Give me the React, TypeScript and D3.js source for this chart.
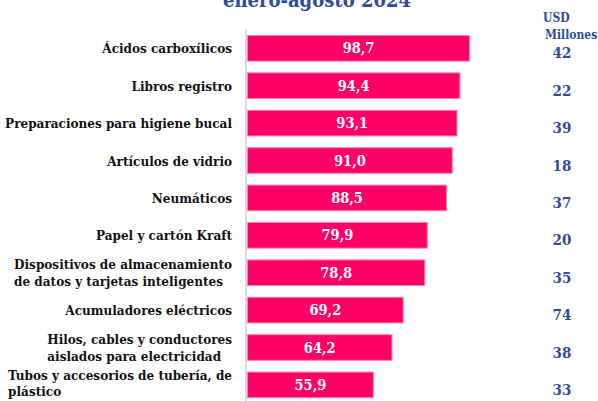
import React from "react";
import * as d3 from "d3";

const categories: string[][] = [
  ["Ácidos carboxílicos"],
  ["Libros registro"],
  ["Preparaciones para higiene bucal"],
  ["Artículos de vidrio"],
  ["Neumáticos"],
  ["Papel y cartón Kraft"],
  ["Dispositivos de almacenamiento", "de datos y tarjetas inteligentes"],
  ["Acumuladores eléctricos"],
  ["Hilos, cables y conductores", "aislados para electricidad"],
  ["Tubos y accesorios de tubería, de", "plástico"],
];
const barValues: number[] = [98.7, 94.4, 93.1, 91.0, 88.5, 79.9, 78.8, 69.2, 64.2, 55.9];
const usdValues: number[] = [42, 22, 39, 18, 37, 20, 35, 74, 38, 33];
const titleText = "enero-agosto 2024";
const unitLines = ["USD", "Millones"];

const W = 598;
const H = 401;
const FONT = "'DejaVu Serif Condensed', 'DejaVu Serif', serif";
const BLUE = "#2F4B9B";
const PINK = "#FF0066";
const LABEL_SIZE = 13.4;

export default function App() {
  const ids = categories.map((_, i) => String(i));
  const x = d3.scaleLinear().domain([0, 100]).range([247.5, 472.5]);
  const y = d3
    .scaleBand<string>()
    .domain(ids)
    .range([29.6, 403.6])
    .paddingInner(0.315)
    .paddingOuter(0.1575);
  const fmt = (v: number) => v.toFixed(1).replace(".", ",");

  return (
    <svg
      width={W}
      height={H}
      style={{ position: "absolute", left: 0, top: 0, background: "#fff" }}
      fontFamily={FONT}
    >
      <text x={317} y={7} textAnchor="middle" fontSize={20} fontWeight="bold" fill={BLUE}>
        {titleText}
      </text>
      <text x={543} y={22} fontSize={12} fontWeight="bold" fill={BLUE}>
        {unitLines[0]}
      </text>
      <text x={545} y={39} fontSize={12} fontWeight="bold" fill={BLUE}>
        {unitLines[1]}
      </text>
      <line x1={246} x2={246} y1={29.5} y2={H} stroke="#D9D9D9" strokeWidth={2} />
      {barValues.map((v, i) => {
        const y0 = y(ids[i])!;
        const bw = y.bandwidth();
        const cy = y0 + bw / 2;
        const lines = categories[i];
        return (
          <g key={i}>
            <rect
              x={x(0)}
              y={y0}
              width={x(v) - x(0)}
              height={bw}
              fill={PINK}
              stroke="#FF7FAA"
              strokeWidth={1}
            />
            <text
              x={(x(0) + x(v)) / 2}
              y={cy + 5}
              textAnchor="middle"
              fontSize={14.5}
              fontWeight="bold"
              fill="#fff"
            >
              {fmt(v)}
            </text>
            <text
              x={562}
              y={cy + 10}
              textAnchor="middle"
              fontSize={15}
              fontWeight="bold"
              fill={BLUE}
            >
              {usdValues[i]}
            </text>
            {lines.length === 1 ? (
              <text x={232} y={cy + 5} textAnchor="end" fontSize={LABEL_SIZE} fontWeight="bold" fill="#111">
                {lines[0]}
              </text>
            ) : (
              <LabelBlock lines={lines} cy={cy} idx={i} />
            )}
          </g>
        );
      })}
    </svg>
  );
}

function LabelBlock({ lines, cy, idx }: { lines: string[]; cy: number; idx: number }) {
  const ref = React.useRef<SVGGElement>(null);
  const [shift, setShift] = React.useState(0);
  React.useLayoutEffect(() => {
    if (!ref.current) return;
    const texts = Array.from(ref.current.querySelectorAll("text")) as SVGTextElement[];
    const maxW = Math.max(...texts.map((t) => t.getComputedTextLength()));
    setShift(232 - maxW);
  }, []);
  const offsets = idx === 9 ? [-4.5, 11.5] : [-3.5, 13];
  return (
    <g ref={ref}>
      {lines.map((l, k) => (
        <text key={k} x={shift} y={cy + offsets[k]} fontSize={LABEL_SIZE} fontWeight="bold" fill="#111">
          {l}
        </text>
      ))}
    </g>
  );
}
